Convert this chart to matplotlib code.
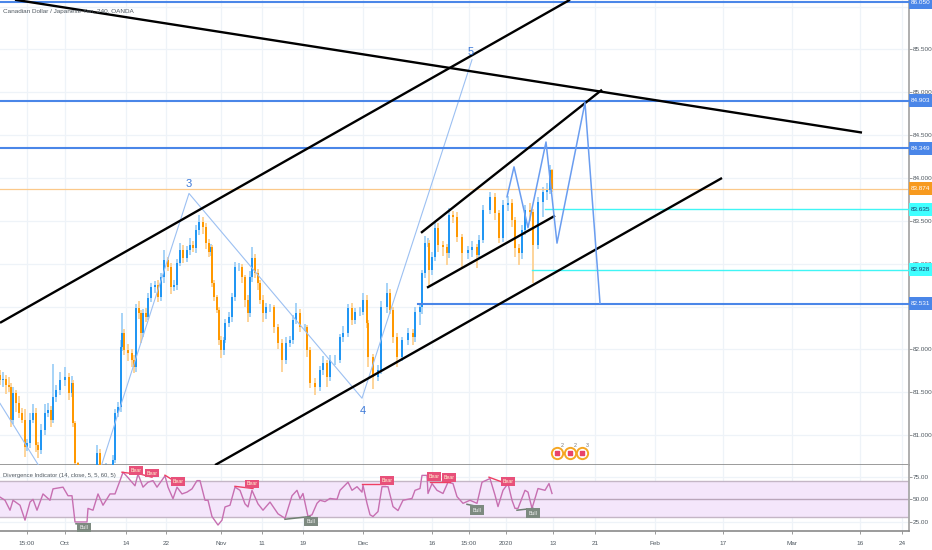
import matplotlib
matplotlib.use("Agg")
import matplotlib.pyplot as plt
from matplotlib.patches import Rectangle
import numpy as np

plt.rcParams['font.family'] = ['Liberation Sans', 'DejaVu Sans']

title = "Canadian Dollar / Japanese Yen, 240, OANDA"
ind_title = "Divergence Indicator (14, close, 5, 5, 60, 5)"

# time scale (bar positions)
time_ticks = [27, 65, 126, 166, 221, 262, 303, 363, 432, 469, 506, 553, 595, 655, 723, 792, 860, 902]
time_labels = ["15:00", "Oct", "14", "22", "Nov", "11", "19", "Dec", "16", "15:00", "2020", "13", "21", "Feb", "17", "Mar", "16", "24"]
price_ticks = [81.0, 81.5, 82.0, 82.5, 83.0, 83.5, 84.0, 84.5, 85.0, 85.5, 86.0]
price_tick_labels = ["81.000", "81.500", "82.000", "", "83.000", "83.500", "84.000", "84.500", "85.000", "85.500", "86.000"]
rsi_ticks = [25, 50, 75]

bar_pos = [0, 3, 6, 9, 11, 13, 16, 19, 22, 25,
           27, 30, 33, 36, 38, 41, 45, 48, 51, 53,
           56, 60, 65, 69, 72, 73, 75, 78, 90, 97,
           100, 106, 113, 115, 118, 121, 122, 124, 128, 132,
           134, 136, 139, 141, 143, 146, 148, 151, 155, 158,
           161, 164, 168, 171, 174, 177, 180, 183, 187, 190,
           193, 196, 199, 203, 206, 209, 211, 212, 214, 217,
           219, 221, 224, 225, 229, 232, 235, 239, 242, 245,
           248, 250, 252, 255, 258, 260, 263, 266, 270, 274,
           278, 282, 286, 290, 293, 296, 300, 305, 307, 310,
           315, 320, 323, 327, 330, 335, 340, 343, 348, 352,
           355, 360, 363, 367, 368, 373, 378, 381, 387, 390,
           393, 397, 402, 408, 413, 415, 420, 422, 425, 428,
           429, 432, 435, 438, 443, 447, 449, 453, 457, 462,
           468, 472, 477, 479, 483, 490, 495, 499, 503, 508,
           512, 515, 519, 522, 525, 530, 533, 538, 543, 547,
           550, 552]
closes = [81.64, 81.66, 81.58, 81.56, 81.18, 81.49, 81.37, 81.26, 81.18, 80.86,
          80.91, 81.18, 81.26, 80.88, 80.83, 81.06, 81.26, 81.29, 81.18, 81.44,
          81.53, 81.64, 81.68, 81.49, 81.61, 81.14, 80.67, 80.20, 80.30, 80.79,
          80.50, 80.60, 80.71, 81.26, 81.33, 82.03, 82.19, 81.99, 81.96, 81.88,
          81.79, 82.48, 82.42, 82.19, 82.42, 82.38, 82.60, 82.73, 82.75, 82.61,
          82.84, 83.04, 82.96, 82.73, 82.75, 83.01, 83.16, 83.07, 83.16, 83.22,
          83.18, 83.39, 83.49, 83.43, 83.24, 83.14, 83.19, 82.77, 82.61, 82.46,
          82.11, 81.99, 82.11, 82.31, 82.38, 82.61, 82.96, 82.96, 82.84, 82.58,
          82.42, 82.84, 83.07, 82.89, 82.77, 82.58, 82.42, 82.49, 82.49, 82.26,
          82.07, 81.88, 82.07, 82.11, 82.34, 82.42, 82.26, 82.26, 81.99, 81.61,
          81.56, 81.76, 81.84, 81.68, 81.88, 81.88, 82.14, 82.19, 82.48, 82.34,
          82.44, 82.44, 82.58, 82.31, 81.91, 81.68, 81.76, 82.49, 82.66, 82.46,
          82.14, 81.91, 82.11, 82.19, 82.14, 82.44, 82.49, 82.89, 83.24, 83.24,
          82.93, 83.08, 83.42, 83.22, 83.19, 83.12, 83.57, 83.54, 83.31, 83.12,
          83.16, 83.19, 83.10, 83.28, 83.63, 83.78, 83.59, 83.30, 83.68, 83.71,
          83.51, 83.18, 83.12, 83.39, 83.63, 83.60, 83.22, 83.72, 83.84, 83.86,
          84.09, 83.874]
upper_wick = [.06, .08, .04, .10, .05, .07, .04, .09, .06, .12,
              .05, .08, .10, .06, .04, .07, .10, .08, .05, .39,
              .06, .10, .12, .05, .08, .03, .02, .02, .05, .10,
              .05, .08, .06, .04, .06, .08, .23, .05, .07, .04,
              .05, .05, .08, .04, .05, .06, .06, .04, .05, .06,
              .05, .12, .04, .05, .06, .05, .08, .06, .05, .08,
              .04, .06, .08, .05, .04, .05, .04, .03, .04, .03,
              .04, .05, .04, .05, .06, .05, .06, .05, .04, .03,
              .05, .08, .12, .04, .05, .04, .06, .05, .04, .03,
              .04, .05, .08, .05, .06, .12, .05, .04, .03, .04,
              .06, .05, .08, .04, .05, .06, .04, .08, .05, .06,
              .04, .06, .08, .05, .03, .04, .06, .07, .12, .05,
              .03, .05, .04, .06, .05, .06, .05, .04, .08, .06,
              .04, .06, .08, .06, .05, .04, .08, .05, .06, .04,
              .05, .08, .04, .06, .06, .06, .05, .04, .06, .08,
              .05, .04, .05, .06, .06, .08, .04, .06, .06, .08,
              .06, .02]
lower_wick = [.05, .08, .10, .06, .08, .05, .10, .06, .04, .12,
              .05, .06, .04, .08, .10, .05, .06, .05, .08, .04,
              .05, .06, .07, .08, .05, .04, .05, .05, .04, .05,
              .05, .04, .05, .04, .05, .06, .05, .06, .09, .08,
              .07, .05, .06, .12, .05, .06, .04, .05, .07, .06,
              .05, .06, .04, .08, .05, .06, .04, .06, .05, .06,
              .04, .05, .06, .08, .07, .06, .05, .04, .05, .04,
              .06, .09, .05, .04, .05, .06, .05, .04, .06, .08,
              .10, .04, .05, .06, .08, .05, .10, .06, .05, .07,
              .06, .14, .05, .04, .05, .04, .06, .05, .08, .06,
              .09, .05, .06, .12, .05, .06, .04, .05, .05, .06,
              .04, .05, .04, .06, .12, .14, .05, .05, .06, .05,
              .07, .11, .05, .06, .09, .05, .15, .08, .06, .05,
              .20, .06, .05, .08, .10, .14, .05, .06, .06, .17,
              .06, .08, .15, .05, .04, .05, .08, .06, .05, .06,
              .08, .10, .14, .06, .05, .10, .45, .05, .18, .10,
              .05, .04]

rsi_x = [0, 5, 10, 13, 20, 25, 30, 33, 37, 43, 50, 53, 63, 68, 72, 75, 87, 88, 93, 98,
         103, 110, 115, 120, 123, 128, 135, 138, 143, 148, 153, 157, 165, 168, 173, 177,
         182, 187, 192, 197, 200, 205, 208, 212, 218, 222, 225, 230, 235, 240, 245, 248,
         252, 258, 263, 270, 278, 285, 292, 297, 300,
         303, 308, 312, 317, 320, 325, 330, 337, 340, 348, 352, 357, 362, 363, 367, 370,
         373, 378, 382, 388, 393, 398, 403, 412, 415, 420, 422, 427, 428, 432, 437, 443,
         448, 453, 457, 463, 470, 477, 482, 490, 495, 498, 503, 508, 512, 515, 518, 525,
         528, 532, 538, 545, 549, 552]
rsi_y = [52.5, 49, 38, 49, 43.5, 27, 47, 50, 38, 56, 49, 61.6, 63.5, 54, 54, 25, 25, 40, 38, 56,
         43.5, 56, 56, 70.7, 80, 74, 65, 78, 63.5, 69, 70.7, 63.5, 76, 63.5, 50.7, 63.5,
         56, 58, 61.6, 70.7, 70.7, 49, 49, 31, 21.6, 27, 41.6, 43.5, 63.5, 60, 45, 41.6,
         60, 45, 38, 47, 34, 29, 54, 60, 50.7,
         56.5, 31, 33, 45.6, 49, 47.5, 51, 50, 60, 69, 60, 64, 58, 65.6, 45.6, 33,
         31, 36.5, 64, 64, 42, 37.6, 49, 51, 60, 62, 76.5, 76.5, 56.5, 67.5, 60, 56.5,
         69, 67.5, 53, 45.6, 49, 45.6, 69, 73, 54.7, 42, 60, 67.5, 49, 40, 40, 60,
         58, 40, 62, 60, 67.5, 56.5]

level_prices = [86.05, 84.903, 84.349]
level_tags = ["86.050", "84.903", "84.349"]
last_price = 83.874
cyan_prices = [83.635, 82.928]
cyan_starts = [545, 532]
low_level = 82.531
low_level_start = 418

seg_x = [[15, 862], [0, 570], [215, 722], [421, 602], [427, 555]]
seg_p = [[86.08, 84.53], [82.31, 86.08], [80.65, 84.00], [83.36, 85.03], [82.72, 83.56]]

wave_x = [0, 80, 189, 362, 472]
wave_p = [81.37, 79.87, 83.82, 81.43, 85.38]
wave_label_x = [189, 363, 471]
wave_label_p = [83.93, 81.28, 85.47]
wave_labels = ["3", "4", "5"]

proj_x = [507, 514, 528, 546, 557, 585, 600]
proj_p = [83.78, 84.13, 83.42, 84.42, 83.24, 84.88, 82.54]

bear_x = [136, 152, 178, 252, 387, 434, 449, 508]
bear_y = [82, 79, 70, 67, 71, 75.5, 74.5, 70]
bull_x = [84, 311, 477, 533]
bull_y = [19, 25.5, 38, 34.5]
bear_seg_x = [[122, 136], [140, 152], [165, 178], [235, 253], [362, 385], [430, 450], [489, 505]]
bear_seg_y = [[80, 78], [78, 74.5], [76.7, 67.8], [64.4, 62], [66.7, 66.7], [69, 69], [74.5, 68]]
bull_seg_x = [[76, 86], [285, 310], [467, 478], [517, 533]]
bull_seg_y = [[23, 22], [28, 31], [44.5, 42], [38, 40]]

event_x = [557, 570, 582]
event_p = [80.79, 80.79, 80.79]
event_nums = ["2", "2", "3"]

W, H = 932, 550
XMAX = 908.5
GRID = '#eef3f8'
AXC = '#8a8a8a'
TXT = '#4f5860'
BLUE = '#4a86e8'
TICK_FS = 4.6

fig = plt.figure(figsize=(W / 100, H / 100), dpi=100, facecolor='white')
ax = fig.add_axes([0, (H - 465) / H, XMAX / W, 465 / H])
ax2 = fig.add_axes([0, (H - 531) / H, XMAX / W, 66 / H])

ax.set_xlim(0, XMAX)
ax.set_ylim(80.651, 86.077)
ax2.set_xlim(0, XMAX)
ax2.set_ylim(15, 88)

for a in (ax, ax2):
    for s in ('top', 'left'):
        a.spines[s].set_visible(False)
    a.spines['right'].set_color('#a8a8a8')
    a.spines['right'].set_linewidth(1.3)
    a.spines['bottom'].set_color(AXC)
    a.spines['bottom'].set_linewidth(1.2)
    a.set_xticks(time_ticks)
    a.yaxis.tick_right()
    a.grid(True, color=GRID, lw=0.9, zorder=0)
    a.set_axisbelow(True)
    a.tick_params(axis='y', length=2, width=0.6, color=AXC, labelsize=TICK_FS, labelcolor=TXT, pad=1.0)

ax.tick_params(axis='x', length=0, labelbottom=False)
ax.set_yticks(price_ticks)
ax.set_yticklabels(price_tick_labels)
ax2.set_yticks(rsi_ticks)
ax2.set_yticklabels(["25.00", "50.00", "75.00"])
ax2.set_xticklabels(time_labels)
ax2.tick_params(axis='x', length=2, width=0.6, color=AXC, labelsize=TICK_FS, labelcolor=TXT, pad=5)

# candles
bx = np.array(bar_pos, float)
cl = np.array(closes)
op = np.r_[81.70, cl[:-1]]
up = cl >= op
hi = np.maximum(op, cl) + np.array(upper_wick)
lo = np.minimum(op, cl) - np.array(lower_wick)
widths = np.clip(np.r_[np.diff(bx), 2.0], 1.4, 2.4)
ax.vlines(bx[up], lo[up], hi[up], color='#a6d3f7', lw=1.4, zorder=2)
ax.vlines(bx[~up], lo[~up], hi[~up], color='#fdd49a', lw=1.4, zorder=2)
ax.bar(bx[up], (cl - op)[up], bottom=op[up], width=widths[up], color='#2196f3', zorder=3)
ax.bar(bx[~up], (cl - op)[~up], bottom=op[~up], width=widths[~up], color='#ff9800', zorder=3)

# levels
ax.axhline(last_price, color='#fcc98a', lw=0.9, zorder=2.5)
for p in level_prices:
    ax.axhline(p, color=BLUE, lw=1.5, zorder=4)
ax.plot([low_level_start, XMAX], [low_level, low_level], color=BLUE, lw=1.5, zorder=4)
for p, s in zip(cyan_prices, cyan_starts):
    ax.plot([s, XMAX], [p, p], color='#40f5f5', lw=1.0, zorder=4)

# trend lines
for xs, ps in zip(seg_x, seg_p):
    ax.plot(xs, ps, color='black', lw=1.7, zorder=5, solid_capstyle='butt')

# waves
ax.plot(wave_x, wave_p, color='#9cc0f2', lw=0.8, zorder=3.5)
for x, p, t in zip(wave_label_x, wave_label_p, wave_labels):
    ax.text(x, p, t, color='#3b78d8', fontsize=8, ha='center', va='center', zorder=6)
ax.plot(proj_x, proj_p, color='#6a9df0', lw=1.1, zorder=6)

# event icons
ax.scatter(event_x, event_p, s=66, facecolor='white', edgecolor='#f5a623', lw=1.4, zorder=7, clip_on=False)
ax.scatter(event_x, event_p, s=7, color='#e8436a', marker='s', zorder=8, clip_on=False)
for x, p, t in zip(event_x, event_p, event_nums):
    ax.text(x + 5, p + 0.09, t, fontsize=3.8, color='#777777', ha='center', va='center', zorder=9)

# right-hand tags
def tag(p, txt, face, fg):
    ax.add_patch(Rectangle((1.0, p - 0.075), 23.5 / XMAX, 0.15, transform=ax.get_yaxis_transform(),
                           facecolor=face, edgecolor='none', clip_on=False, zorder=10))
    ax.text(1.0 + 12 / XMAX, p, txt, transform=ax.get_yaxis_transform(), color=fg, fontsize=TICK_FS,
            ha='center', va='center', clip_on=False, zorder=11)

for p, t in zip(level_prices, level_tags):
    tag(p, t, BLUE, 'white')
tag(last_price, "83.874", '#f79a1f', 'white')
tag(cyan_prices[0], "83.635", '#40ffff', '#1b3a6b')
tag(cyan_prices[1], "82.928", '#40ffff', '#1b3a6b')
tag(low_level, "82.531", BLUE, 'white')

ax.text(3 / XMAX, 1 - 11 / 465, title, transform=ax.transAxes, color=TXT, fontsize=4.6, va='center', ha='left', zorder=12)

# RSI pane
ax2.axhspan(30, 70, facecolor='#f4e6fb', edgecolor='none', zorder=1)
for lv, c in ((70, '#c4b6c6'), (50, '#b9a6bb'), (30, '#c4b6c6')):
    ax2.axhline(lv, color=c, lw=1.0, zorder=1.5)
ax2.plot(rsi_x, rsi_y, color='#c76fb1', lw=1.0, zorder=3)
for xs, ys in zip(bear_seg_x, bear_seg_y):
    ax2.plot(xs, ys, color='#ef3f62', lw=1.0, zorder=4)
for xs, ys in zip(bull_seg_x, bull_seg_y):
    ax2.plot(xs, ys, color='#6f7f72', lw=1.1, zorder=4)
for x, y in zip(bear_x, bear_y):
    ax2.text(x, y, "Bear", fontsize=3.8, color='#fff3d0', ha='center', va='center', zorder=6,
             bbox=dict(boxstyle='square,pad=0.35', fc='#e8507a', ec='none'))
for x, y in zip(bull_x, bull_y):
    ax2.text(x, y, "Bull", fontsize=3.8, color='#f2f2f2', ha='center', va='center', zorder=6,
             bbox=dict(boxstyle='square,pad=0.45', fc='#7d8a80', ec='none'))
ax2.text(3 / XMAX, 1 - 11 / 66, ind_title, transform=ax2.transAxes, color=TXT, fontsize=4.2, va='center', ha='left', zorder=7)

fig.savefig('out.png', dpi=100, facecolor='white')
